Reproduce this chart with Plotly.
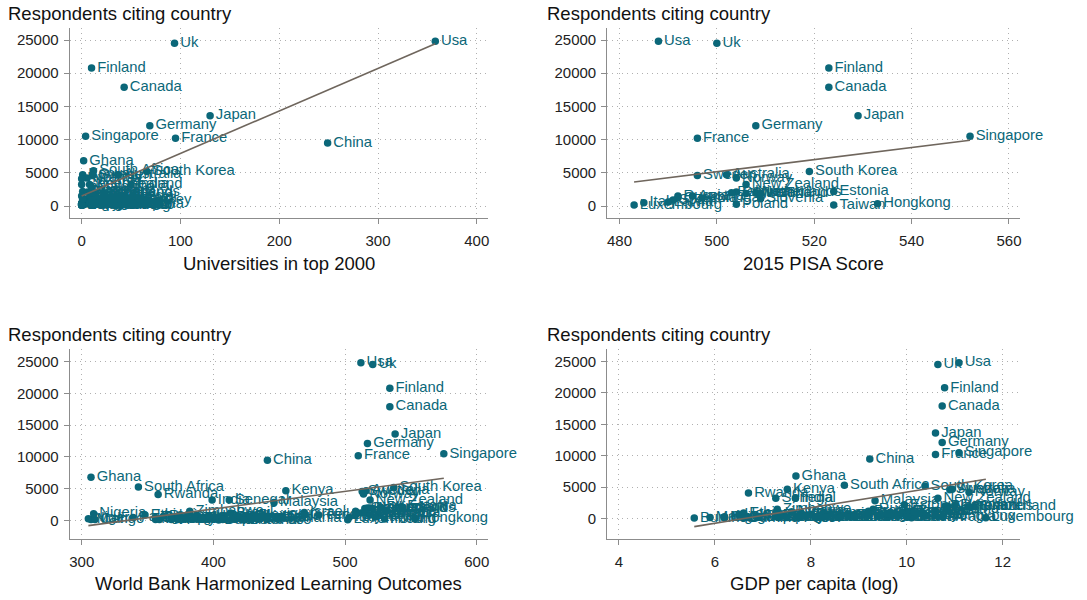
import numpy as np
import plotly.graph_objects as go

# ---------------- data ----------------
countries = [
    "Usa", "Uk", "Finland", "Canada", "Japan", "Germany", "Singapore", "France", "China", "Ghana",
    "South Africa", "South Korea", "Kenya", "Sweden", "Australia", "Norway", "Rwanda", "New Zealand", "India", "Senegal",
    "Malaysia", "Estonia", "Netherlands", "Switzerland", "Denmark", "Ireland", "Belgium", "Russia", "Poland", "Taiwan",
    "Hongkong", "Slovenia", "Austria", "Czechia", "Portugal", "Spain", "Italy", "Luxembourg", "Latvia", "Brazil",
    "Mexico", "Argentina", "Chile", "Colombia", "Peru", "Turkey", "Iran", "Israel", "Greece", "Romania",
    "Vietnam", "Thailand", "Indonesia", "Philippines", "Pakistan", "Bangladesh", "Nepal", "Sri Lanka", "Egypt", "Morocco",
    "Saudi Arabia", "Uae", "Uganda", "Tanzania", "Ethiopia", "Zambia", "Zimbabwe", "Malawi", "Mozambique", "Cameroon",
    "Ivory Coast", "Burkina Faso", "Mali", "Niger", "Burundi", "Congo", "Botswana", "Namibia", "Nigeria",
]

respondents = [
    24800, 24500, 20800, 17900, 13600, 12100, 10500, 10200, 9500, 6800,
    5300, 5200, 4700, 4600, 4700, 4200, 4100, 3250, 3250, 3250,
    2850, 2200, 2000, 1900, 2100, 1900, 2000, 1500, 250, 150,
    350, 1100, 1500, 1200, 1200, 900, 500, 150, 600, 1200,
    800, 500, 700, 500, 300, 900, 500, 1300, 900, 400,
    900, 600, 600, 700, 500, 400, 300, 300, 500, 200,
    300, 500, 700, 400, 900, 300, 1500, 200, 200, 300,
    200, 100, 200, 300, 100, 200, 300, 200, 1100,
]

universities_top2000 = [
    358, 94, 10, 43, 130, 69, 4, 95, 249, 2,
    12, 66, 1, 11, 37, 5, 0, 8, 50, 0,
    10, 1, 13, 9, 6, 8, 9, 42, 35, 39,
    6, 2, 12, 8, 9, 44, 58, 1, 1, 53,
    15, 10, 12, 8, 3, 60, 51, 9, 11, 6,
    1, 6, 5, 2, 9, 2, 0, 1, 14, 2,
    13, 3, 1, 0, 1, 0, 0, 0, 0, 0,
    0, 0, 0, 0, 0, 0, 0, 0, 1,
]

pisa_2015 = [
    488, 500, 523, 523, 529, 508, 552, 496, None, None,
    None, 519, None, 496, 502, 504, None, 506, None, None,
    None, 524, 508, 506, 504, 509, 503, 492, 504, 524,
    533, 509, 495, 492, 497, 491, 485, 483, 490, None,
    None, None, None, None, None, None, None, None, None, None,
    None, None, None, None, None, None, None, None, None, None,
    None, None, None, None, None, None, None, None, None, None,
    None, None, None, None, None, None, None, None, None,
]

hlo_score = [
    512, 521, 534, 534, 538, 517, 575, 510, 441, 307,
    343, 537, 455, 513, 516, 514, 358, 519, 399, 412,
    446, 543, 519, 515, 527, 521, 517, 531, 530, None,
    553, 525, 508, 512, 515, 508, 503, 502, 523, 413,
    430, 408, 452, 419, 415, 480, 424, 469, 469, 448,
    519, 427, 395, 362, 339, 368, 369, 400, 356, 356,
    399, 448, 397, 388, 348, 358, 382, 359, 368, 379,
    373, 404, 307, 305, 423, 310, 391, 407, 309,
]

log_gdp_per_capita = [
    11.09, 10.65, 10.79, 10.74, 10.60, 10.74, 11.09, 10.60, 9.23, 7.69,
    8.70, 10.38, 7.51, 10.90, 10.95, 11.30, 6.70, 10.65, 7.68, 7.27,
    9.34, 9.95, 10.85, 11.40, 11.00, 11.30, 10.80, 9.30, 9.60, 10.10,
    10.75, 10.10, 10.85, 10.00, 10.00, 10.30, 10.40, 11.65, 9.80, 9.20,
    9.20, 9.40, 9.60, 8.80, 8.80, 9.20, 8.60, 10.60, 9.90, 9.40,
    7.80, 8.90, 8.30, 8.00, 7.30, 7.40, 6.90, 8.30, 7.90, 8.10,
    10.00, 10.60, 6.50, 6.90, 6.60, 7.30, 7.30, 5.90, 6.20, 7.30,
    7.50, 6.60, 6.70, 6.20, 5.57, 6.20, 8.90, 8.60, 7.60,
]

y_title = "Respondents citing country"
x_titles = [
    "Universities in top 2000",
    "2015 PISA Score",
    "World Bank Harmonized Learning Outcomes",
    "GDP per capita (log)",
]
x_tickvals = [
    [0, 100, 200, 300, 400],
    [480, 500, 520, 540, 560],
    [300, 400, 500, 600],
    [4, 6, 8, 10, 12],
]
y_tickvals = [0, 5000, 10000, 15000, 20000, 25000]

# ---------------- styling / layout ----------------
W, H = 1087, 600
FONT = "Liberation Sans, Arial, Helvetica, sans-serif"
TEAL = "#0b6779"
FIT = "#6f665d"
AXIS = "#8c8c8c"
GRID = "#b0b0b0"

boxes = [
    (69, 488, 28, 218),
    (608, 1022, 28, 218),
    (69, 488, 349.3, 539.3),
    (608, 1022, 349.3, 539.3),
]
x_ranges = [[-12, 411], [477.5, 562.3], [290.9, 608.3], [3.757, 12.366]]
y_ranges = [[-1807, 26807], [-1807, 26807], [-2919, 26900], [-3272, 26920]]
title_x = [5, 546, 5, 546]
title_y = [13, 13, 334.5, 334.5]
xtitle_y = [263, 263, 583.7, 583.7]

x_series = [universities_top2000, pisa_2015, hlo_score, log_gdp_per_capita]

fig = go.Figure()
annotations = []
layout_axes = {}

for i in range(4):
    xs_all = x_series[i]
    idx = [k for k, v in enumerate(xs_all) if v is not None]
    xs = np.array([xs_all[k] for k in idx], dtype=float)
    ys = np.array([respondents[k] for k in idx], dtype=float)
    names = [countries[k] for k in idx]
    xa = "x" if i == 0 else f"x{i+1}"
    ya = "y" if i == 0 else f"y{i+1}"

    fig.add_trace(go.Scatter(
        x=xs, y=ys, text=names, mode="markers+text",
        textposition="middle right",
        textfont=dict(family=FONT, size=14.8, color=TEAL),
        marker=dict(size=7.5, color=TEAL, line=dict(width=0)),
        cliponaxis=False, showlegend=False, xaxis=xa, yaxis=ya,
        hoverinfo="text",
    ))
    # linear fit (Stata lfit), drawn over the observed x range
    slope, intercept = np.polyfit(xs, ys, 1)
    fx = np.array([xs.min(), xs.max()])
    fig.add_trace(go.Scatter(
        x=fx, y=intercept + slope * fx, mode="lines",
        line=dict(color=FIT, width=1.6),
        showlegend=False, xaxis=xa, yaxis=ya, hoverinfo="skip",
    ))

    l, r, t, b = boxes[i]
    common = dict(
        showline=True, linecolor=AXIS, linewidth=1.3,
        ticks="outside", ticklen=5, tickcolor=AXIS, tickwidth=1.2,
        showgrid=True, gridcolor=GRID, griddash="1px,4px", gridwidth=1,
        zeroline=False, tickfont=dict(family=FONT, size=15, color="#222222"),
    )
    xkey = "xaxis" if i == 0 else f"xaxis{i+1}"
    ykey = "yaxis" if i == 0 else f"yaxis{i+1}"
    layout_axes[xkey] = dict(
        common, domain=[l / W, r / W], range=x_ranges[i],
        tickmode="array", tickvals=x_tickvals[i],
        ticktext=[str(v) for v in x_tickvals[i]],
        anchor=ya, ticklabelstandoff=4,
    )
    layout_axes[ykey] = dict(
        common, domain=[1 - b / H, 1 - t / H], range=y_ranges[i],
        tickmode="array", tickvals=y_tickvals,
        ticktext=[str(v) for v in y_tickvals],
        anchor=xa, ticklabelstandoff=2,
    )
    annotations.append(dict(
        text=y_title, x=title_x[i] / W, y=1 - title_y[i] / H,
        xref="paper", yref="paper", xanchor="left", yanchor="middle",
        showarrow=False, font=dict(family=FONT, size=18.5, color="#111111"),
    ))
    annotations.append(dict(
        text=x_titles[i], x=(l + r) / 2 / W, y=1 - xtitle_y[i] / H,
        xref="paper", yref="paper", xanchor="center", yanchor="middle",
        showarrow=False, font=dict(family=FONT, size=18.5, color="#111111"),
    ))

fig.update_layout(
    width=W, height=H,
    margin=dict(l=0, r=0, t=0, b=0),
    paper_bgcolor="white", plot_bgcolor="white",
    annotations=annotations,
    **layout_axes,
)

fig.write_html("out.html")
